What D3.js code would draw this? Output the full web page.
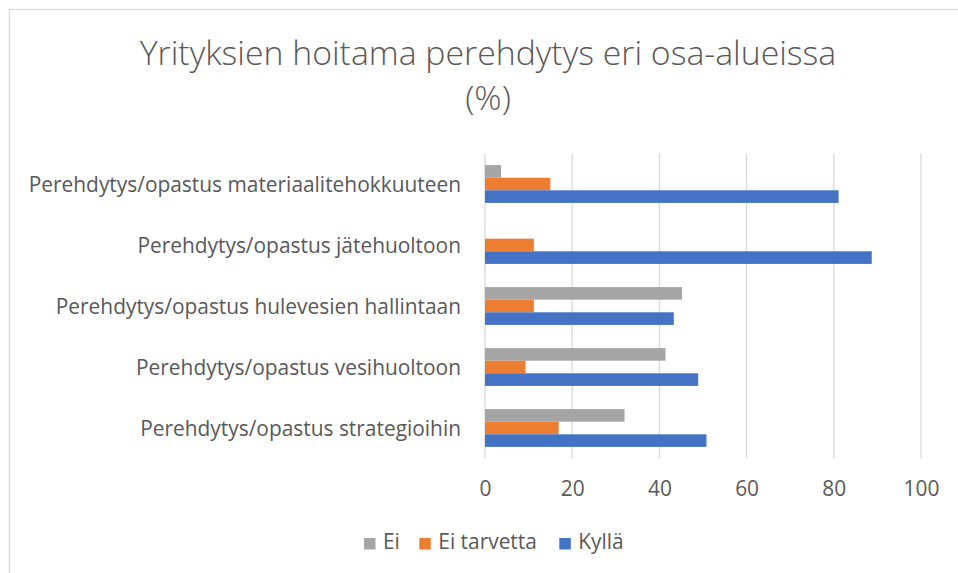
<!DOCTYPE html>
<html><head><meta charset="utf-8">
<script src="https://cdn.jsdelivr.net/npm/d3@7"></script>
<style>body{margin:0;background:#fff}svg{display:block}</style>
</head><body>
<script>
const categories = [
  "Perehdytys/opastus materiaalitehokkuuteen",
  "Perehdytys/opastus jätehuoltoon",
  "Perehdytys/opastus hulevesien hallintaan",
  "Perehdytys/opastus vesihuoltoon",
  "Perehdytys/opastus strategioihin"
];
const seriesNames = ["Ei", "Ei tarvetta", "Kyllä"];
const ei = [3.7, 0, 45.2, 41.4, 32.0];
const eiTarvetta = [15.0, 11.2, 11.2, 9.3, 16.9];
const kylla = [81.1, 88.7, 43.3, 48.9, 50.8];
const xTicks = [0, 20, 40, 60, 80, 100];
const colors = ["#A5A5A5", "#ED7D31", "#4472C4"];

const seriesValues = [ei, eiTarvetta, kylla];
const W = 958, H = 573;
const font = "'Open Sans', 'Noto Sans', sans-serif";
const txt = "#595959";
const fs = 20.9;

const svg = d3.select("body").append("svg").attr("width", W).attr("height", H);
svg.append("rect").attr("x", 9.5).attr("y", 9.5).attr("width", W + 20).attr("height", H + 20)
  .attr("fill", "#fff").attr("stroke", "#d9d9d9").attr("stroke-width", 1.3);

svg.append("text").attr("x", 488).attr("y", 65).attr("text-anchor", "middle")
  .attr("font-family", font).attr("font-weight", 300).attr("font-size", 33.8).attr("fill", txt)
  .text("Yrityksien hoitama perehdytys eri osa-alueissa");
svg.append("text").attr("x", 488).attr("y", 110).attr("text-anchor", "middle")
  .attr("font-family", font).attr("font-weight", 300).attr("font-size", 33.8).attr("fill", txt)
  .text("(%)");

const x = d3.scaleLinear().domain([0, 100]).range([485, 921]);
const y = d3.scaleBand().domain(categories).range([153.5, 458.5]).paddingInner(0.38).paddingOuter(0.19);
const yi = d3.scaleBand().domain(seriesNames).range([0, y.bandwidth()]).padding(0);

// gridlines
svg.append("g").selectAll("line").data(xTicks).join("line")
  .attr("x1", d => x(d)).attr("x2", d => x(d)).attr("y1", 153.5).attr("y2", 458.5)
  .attr("stroke", "#d9d9d9").attr("stroke-width", 1.3);

// bars
const rows = categories.map((c, i) => ({ c, vals: seriesNames.map((s, j) => ({ s, j, v: seriesValues[j][i] })) }));
const g = svg.append("g").selectAll("g").data(rows).join("g")
  .attr("transform", d => `translate(0,${y(d.c)})`);
g.selectAll("rect").data(d => d.vals).join("rect")
  .attr("x", x(0)).attr("y", d => yi(d.s)).attr("height", yi.bandwidth())
  .attr("width", d => x(d.v) - x(0)).attr("fill", d => colors[d.j]);

// x axis labels
const xa = svg.append("g").attr("transform", "translate(0,496)")
  .call(d3.axisBottom(x).tickValues(xTicks).tickSize(0).tickPadding(0));
xa.select(".domain").remove();
xa.selectAll("text").attr("font-family", font).attr("font-size", fs).attr("fill", txt).attr("dy", 0).attr("y", 0);

// y axis labels
const ya = svg.append("g").attr("transform", "translate(461,0)")
  .call(d3.axisLeft(y).tickSize(0).tickPadding(0));
ya.select(".domain").remove();
ya.selectAll("text").attr("font-family", font).attr("font-size", fs).attr("fill", txt).attr("dy", "0.36em");

// legend
const legendX = [364, 419.3, 559.3];
const lg = svg.append("g").selectAll("g").data(seriesNames).join("g")
  .attr("transform", (d, i) => `translate(${legendX[i]},538)`);
lg.append("rect").attr("width", 11.5).attr("height", 11.5).attr("fill", (d, i) => colors[i]);
lg.append("text").attr("x", 19).attr("y", 11)
  .attr("font-family", font).attr("font-size", fs).attr("fill", txt).text(d => d);
</script>
</body></html>
